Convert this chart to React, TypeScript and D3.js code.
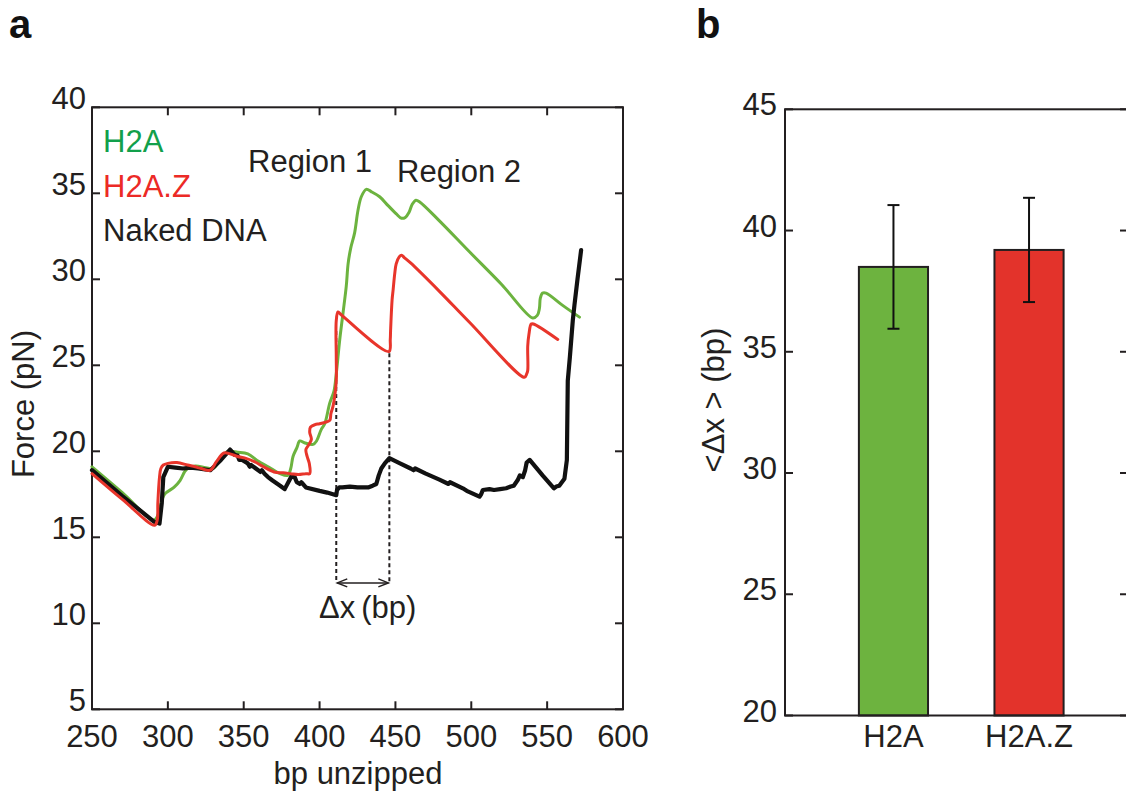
import React from "react";
import * as d3 from "d3";

// ---------- Panel a data ----------
const xTicksA = [250, 300, 350, 400, 450, 500, 550, 600];
const yTicksA = [5, 10, 15, 20, 25, 30, 35, 40];

// [bp unzipped, force pN]
const h2aTrace: [number, number][] = [
  [250, 19.1], [270, 17.6], [290.5, 16.0], [293, 16.2], [295, 16.8], [297.8, 17.5],
  [304, 17.9], [308, 18.3], [311, 18.8], [313, 19.0], [318, 19.15], [325, 19.05],
  [330, 19.0], [335, 19.6], [339.5, 20.0], [346, 19.95], [352.7, 19.85], [360, 19.4],
  [368, 19.0], [374, 18.7], [379, 18.6], [381, 19.0], [382.5, 19.7], [385, 20.2],
  [387, 20.6], [390, 20.5], [395.7, 20.4], [398, 20.6], [401, 21.25], [403.4, 21.6],
  [406.7, 22.8], [409.5, 23.5], [411, 24.5], [413.3, 26.5], [415.4, 28.0], [417.6, 29.6],
  [418.8, 30.9], [420.5, 31.8], [423.1, 32.7], [425.3, 34.0], [427.5, 34.8], [430.8, 35.23],
  [434, 35.1], [439.6, 34.8], [445, 34.3], [450.6, 33.8], [454, 33.55], [456.5, 33.6],
  [459, 33.9], [461, 34.35], [463.5, 34.6], [466, 34.5], [479, 33.4], [498.8, 31.6],
  [520, 29.7], [540.5, 27.75], [543.5, 27.9], [544.9, 28.3], [545.5, 28.9], [547, 29.2],
  [549.3, 29.2], [560, 28.5], [571.3, 27.8],
];

const h2azTrace: [number, number][] = [
  [250, 18.7], [270, 17.2], [291.3, 15.7], [293, 16.0], [293.4, 17.0], [294.5, 18.5],
  [295.4, 19.0], [297, 19.2], [300, 19.3], [306, 19.35], [313, 19.2], [318, 19.1],
  [322, 19.0], [328, 18.9], [332, 19.4], [337, 19.9], [341, 19.85], [346, 19.7],
  [351, 19.6], [357, 19.4], [363, 19.1], [370, 18.8], [376, 18.75], [381, 18.7],
  [386, 18.65], [391, 18.7], [393.5, 18.7], [393.2, 19.3], [391.8, 19.7], [391, 20.1],
  [393, 20.4], [394.6, 20.7], [393.5, 21.1], [394, 21.4], [397, 21.55], [400, 21.6],
  [404, 21.7], [406.7, 21.8], [407.5, 22.2], [408.8, 22.6], [410, 23.2], [411, 24.1],
  [411, 25.5], [411, 27.6], [412.1, 28.1], [413.5, 28.0], [445.7, 25.8], [446.6, 26.5],
  [446.8, 27.0], [447.8, 28.8], [448.5, 29.4], [449.5, 30.3], [450.5, 30.9], [452.5, 31.3],
  [454, 31.4], [456, 31.25], [460, 30.95], [479, 29.3], [498.8, 27.5], [535, 24.3],
  [536.5, 24.5], [537.2, 24.7], [537.2, 26.1], [538, 26.8], [539.5, 27.4], [541, 27.4],
  [557, 26.5],
];

const nakedTrace: [number, number][] = [
  [250, 18.9], [270, 17.4], [291, 15.9], [294.5, 15.8], [296, 17.0], [297, 18.5],
  [300, 19.1], [305, 19.05], [310, 19.0], [315, 19.05], [320, 19.0], [328, 18.9],
  [335, 19.5], [341, 20.1], [344, 19.8], [346, 19.75], [347, 19.5], [349, 19.5],
  [352.7, 19.3], [354, 19.1], [355, 19.2], [358, 19.0], [361, 18.8], [362, 18.9],
  [363.7, 18.7], [366, 18.5], [369, 18.3], [374, 18.0], [377, 17.8], [380, 18.3],
  [381.5, 18.55], [383.6, 18.5], [385, 18.2], [387, 18.1], [388, 18.2], [391, 17.9],
  [400, 17.7], [405, 17.6], [411, 17.45], [411.5, 17.75], [413, 17.9], [415, 17.9],
  [420, 17.95], [425, 17.9], [432, 17.9], [435, 18.0], [437.4, 18.1], [439, 18.6],
  [440.7, 19.0], [443, 19.3], [446, 19.6], [453, 19.3], [460, 19.0], [462, 18.9],
  [463, 19.0], [470, 18.7], [479, 18.35], [485, 18.1], [486, 18.2], [494.4, 17.85],
  [497, 17.7], [505.4, 17.36], [506.5, 17.5], [507.6, 17.75], [512, 17.8], [515, 17.75],
  [519, 17.8], [523, 17.85], [526, 17.95], [528, 18.0], [530.6, 18.33], [532, 18.6],
  [534, 18.5], [535.5, 18.9], [536.5, 19.35], [538.5, 19.5], [547, 18.6], [554.5, 17.85],
  [556, 17.95], [558, 18.0], [561.4, 18.4], [563, 19.5], [563.6, 24.1], [565, 25.5],
  [566.9, 27.6], [568, 28.5], [570, 30], [572.4, 31.7],
];

// Δx markers: [bp, top force]
const dxMarkerBp = [411, 446];
const dxMarkerTop = [27.0, 25.7];
const dxMarkerBottom = 12.45;
const dxArrowForce = 12.35;

// ---------- Panel b data ----------
const barCategories = ["H2A", "H2A.Z"];
const barMeans = [38.5, 39.2];
const barErrors = [2.55, 2.15];
const yTicksB = [20, 25, 30, 35, 40, 45];

const FONT = "'Liberation Sans', Arial, Helvetica, sans-serif";
const INK = "#231f20";
const GREEN_LINE = "#6cb33f";
const RED_LINE = "#e8352b";
const GREEN_BAR = "#6db33f";
const RED_BAR = "#e3332b";
const GREEN_TEXT = "#12a04b";
const RED_TEXT = "#ec2a26";

export default function App() {
  // panel a scales
  const xA = d3.scaleLinear().domain([250, 600]).range([92, 623]);
  const yA = d3.scaleLinear().domain([5, 40]).range([709.3, 107.3]);
  const line = d3
    .line<[number, number]>()
    .x((d) => xA(d[0]))
    .y((d) => yA(d[1]))
    .curve(d3.curveCatmullRom.alpha(0.5));
  const lineSharp = d3
    .line<[number, number]>()
    .x((d) => xA(d[0]))
    .y((d) => yA(d[1]));

  // panel b scales
  const xB = d3.scaleLinear().domain([0.2, 2.73]).range([785, 1128]);
  const yB = d3.scaleLinear().domain([20, 45]).range([715.5, 109.3]);
  const barW = xB(0.71) - xB(0.2);

  const x0 = xA.range()[0], x1 = xA.range()[1];
  const yTop = yA(40), yBot = yA(5);
  const bx0 = xB.range()[0], bx1 = xB.range()[1];
  const byTop = yB(45), byBot = yB(20);

  const arrowY = yA(dxArrowForce);
  const ax0 = xA(dxMarkerBp[0]);
  const ax1 = xA(dxMarkerBp[1]);

  return (
    <svg
      width={1126}
      height={796}
      style={{ position: "absolute", left: 0, top: 0, background: "#fff" }}
      fontFamily={FONT}
    >
      <rect x={0} y={0} width={1126} height={796} fill="#fff" />
      {/* panel letters */}
      <text x={9} y={38} fontSize={40} fontWeight="bold" fill="#111">a</text>
      <text x={696} y={38} fontSize={40} fontWeight="bold" fill="#111">b</text>

      {/* ---------------- Panel a ---------------- */}
      <rect x={x0} y={yTop} width={x1 - x0} height={yBot - yTop} fill="none" stroke={INK} strokeWidth={2} />
      {xTicksA.map((t) => (
        <g key={"xa" + t}>
          <line x1={xA(t)} x2={xA(t)} y1={yBot} y2={yBot - 8} stroke={INK} strokeWidth={2} />
          <line x1={xA(t)} x2={xA(t)} y1={yTop} y2={yTop + 8} stroke={INK} strokeWidth={2} />
          <text x={xA(t)} y={747} fontSize={31} textAnchor="middle" fill={INK}>{t}</text>
        </g>
      ))}
      {yTicksA.map((t) => (
        <g key={"ya" + t}>
          <line x1={x0} x2={x0 + 8} y1={yA(t)} y2={yA(t)} stroke={INK} strokeWidth={2} />
          <line x1={x1} x2={x1 - 8} y1={yA(t)} y2={yA(t)} stroke={INK} strokeWidth={2} />
          <text x={86} y={yA(t) + 2} fontSize={31} textAnchor="end" fill={INK}>{t}</text>
        </g>
      ))}
      <text x={358} y={784} fontSize={31} textAnchor="middle" fill={INK}>bp unzipped</text>
      <text
        transform={`translate(34,404) rotate(-90)`}
        fontSize={31}
        textAnchor="middle"
        fill={INK}
      >
        Force (pN)
      </text>

      {/* dashed Δx markers */}
      {dxMarkerBp.map((bp, i) => (
        <line
          key={"dx" + i}
          x1={xA(bp)}
          x2={xA(bp)}
          y1={yA(dxMarkerTop[i])}
          y2={yA(dxMarkerBottom)}
          stroke={INK}
          strokeWidth={2}
          strokeDasharray="4 3"
        />
      ))}
      {/* double arrow */}
      <line x1={ax0 + 1} x2={ax1 - 1} y1={arrowY} y2={arrowY} stroke={INK} strokeWidth={1.5} />
      <path
        d={`M${ax0 + 11},${arrowY - 4} L${ax0 + 1},${arrowY} L${ax0 + 11},${arrowY + 4}`}
        fill="none"
        stroke={INK}
        strokeWidth={1.5}
      />
      <path
        d={`M${ax1 - 11},${arrowY - 4} L${ax1 - 1},${arrowY} L${ax1 - 11},${arrowY + 4}`}
        fill="none"
        stroke={INK}
        strokeWidth={1.5}
      />
      <text x={319} y={618} fontSize={31} fill={INK}>
        Δx<tspan dx={6}>(bp)</tspan>
      </text>

      {/* traces */}
      <path d={line(h2aTrace) || ""} fill="none" stroke={GREEN_LINE} strokeWidth={3} strokeLinejoin="round" strokeLinecap="round" />
      <path d={lineSharp(nakedTrace) || ""} fill="none" stroke="#111" strokeWidth={4.2} strokeLinejoin="round" strokeLinecap="round" />
      <path d={line(h2azTrace) || ""} fill="none" stroke={RED_LINE} strokeWidth={3} strokeLinejoin="round" strokeLinecap="round" />

      {/* legend and region labels */}
      <text x={103} y={152} fontSize={31} fill={GREEN_TEXT}>H2A</text>
      <text x={103} y={197} fontSize={31} fill={RED_TEXT}>H2A.Z</text>
      <text x={103} y={241} fontSize={31} fill={INK}>Naked DNA</text>
      <text x={248} y={172} fontSize={31} fill={INK}>Region 1</text>
      <text x={397} y={182} fontSize={31} fill={INK}>Region 2</text>

      {/* ---------------- Panel b ---------------- */}
      {barCategories.map((c, i) => {
        const cx = xB(i + 1);
        const fill = i === 0 ? GREEN_BAR : RED_BAR;
        const top = yB(barMeans[i]);
        const eTop = yB(barMeans[i] + barErrors[i]);
        const eBot = yB(barMeans[i] - barErrors[i]);
        return (
          <g key={"bar" + c}>
            <rect x={cx - barW / 2} y={top} width={barW} height={byBot - top} fill={fill} stroke={INK} strokeWidth={2} />
            <line x1={cx} x2={cx} y1={eTop} y2={eBot} stroke="#111" strokeWidth={2} />
            <line x1={cx - 6} x2={cx + 6} y1={eTop} y2={eTop} stroke="#111" strokeWidth={2} />
            <line x1={cx - 6} x2={cx + 6} y1={eBot} y2={eBot} stroke="#111" strokeWidth={2} />
            <text x={cx} y={747} fontSize={31} textAnchor="middle" fill={INK}>{c}</text>
          </g>
        );
      })}
      <rect x={bx0} y={byTop} width={bx1 - bx0} height={byBot - byTop} fill="none" stroke={INK} strokeWidth={2} />
      {yTicksB.map((t) => (
        <g key={"yb" + t}>
          <line x1={bx0} x2={bx0 + 8} y1={yB(t)} y2={yB(t)} stroke={INK} strokeWidth={2} />
          <line x1={bx1} x2={bx1 - 8} y1={yB(t)} y2={yB(t)} stroke={INK} strokeWidth={2} />
          <text x={777} y={yB(t) + 6} fontSize={31} textAnchor="end" fill={INK}>{t}</text>
        </g>
      ))}
      <text
        transform={`translate(724,400) rotate(-90)`}
        fontSize={31}
        textAnchor="middle"
        fill={INK}
      >
        {"<Δx > (bp)"}
      </text>
    </svg>
  );
}
